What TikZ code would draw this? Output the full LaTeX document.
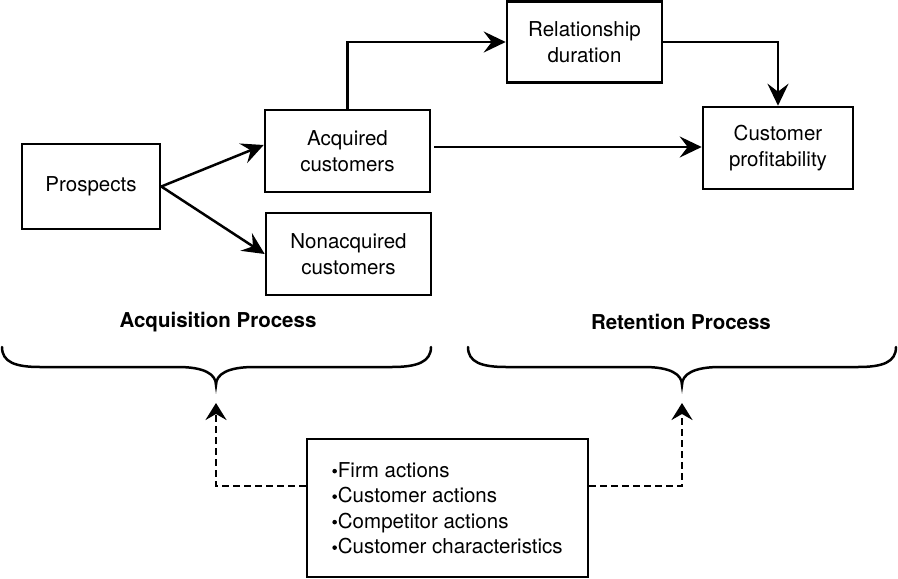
\documentclass[tikz,border=0pt]{standalone}
\usepackage{fontspec}
\setmainfont{TeX Gyre Heros}
\usetikzlibrary{arrows.meta}
\newcommand\bul{\raisebox{3.6pt}{\tikz\fill (0,0) circle (2.3pt);}\hspace{1pt}}
\begin{document}
\begin{tikzpicture}[x=1pt,y=-1pt,
  box/.style={draw,line width=2.6pt,inner sep=0pt,align=center,font=\fontsize{20.5}{25.5}\selectfont},
  conn/.style={line width=2.5pt,-{Stealth[length=22pt,width=21pt,inset=8pt]}},
  dconn/.style={line width=2.6pt,dash pattern=on 7pt off 4pt,-{Stealth[length=17pt,width=21pt,inset=6pt]}},
  brace/.style={line width=2.5pt,line cap=round},
  lbl/.style={font=\fontsize{20.5}{25}\selectfont\bfseries}]
\useasboundingbox (0,0) rectangle (898,579);
\node[box,minimum width=138pt,minimum height=85pt] (pros) at (91,186.5) {Prospects};
\node[box,minimum width=165pt,minimum height=82pt] (acq) at (347.5,151) {Acquired\\customers};
\node[box,minimum width=165pt,minimum height=82pt] (non) at (348.5,254) {Nonacquired\\customers};
\node[box,minimum width=155pt,minimum height=81pt] (rel) at (584.5,42) {Relationship\\duration};
\node[box,minimum width=150pt,minimum height=82pt] (prof) at (778,148) {Customer\\profitability};
\node[box,minimum width=281pt,minimum height=138pt,align=left] (bot) at (447.5,508)
  {\bul Firm actions\\\bul Customer actions\\\bul Competitor actions\\\bul Customer characteristics};
\node[lbl] (acql) at (218,322) {Acquisition Process};
\node[lbl] (retl) at (681,322) {Retention Process};
\coordinate (h) at (0,147);
\draw[conn] (pros.east) -- ([yshift=6pt]acq.west);
\draw[conn] (pros.east) -- (non.west);
\draw[conn] (acq.north) |- (rel.west);
\draw[conn] (rel.east) -| (prof.north);
\draw[conn] ([xshift=3pt]acq.east |- h) -- (prof.west |- h);
% braces
\coordinate (lb) at (216,385);
\coordinate (rb) at (682,385);
\draw[brace] (2,347) .. controls (2,362) and (15,367) .. (40,367) -- (178,367)
  .. controls (204,367) and (216,374) .. (lb) .. controls (216,374) and (228,367) .. (254,367)
  -- (392,367) .. controls (417,367) and (431,362) .. (431,347);
\draw[brace] (468,347) .. controls (468,362) and (481,367) .. (506,367) -- (644,367)
  .. controls (670,367) and (682,374) .. (rb) .. controls (682,374) and (694,367) .. (720,367)
  -- (858,367) .. controls (883,367) and (896,362) .. (896,347);
\coordinate (la) at (216,403);
\coordinate (ra) at (682,403);
\coordinate (dy) at (0,486);
\draw[dconn] (bot.west |- dy) -| (la);
\draw[dconn] (bot.east |- dy) -| (ra);
\end{tikzpicture}
\end{document}
